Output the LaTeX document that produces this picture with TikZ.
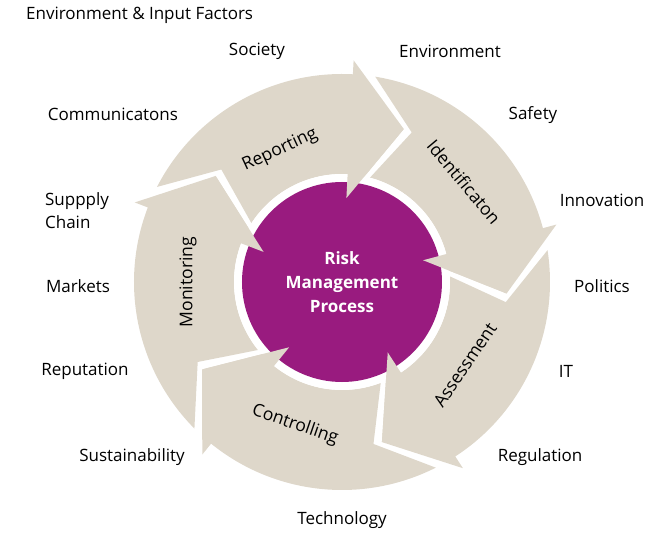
\documentclass[tikz,border=0pt]{standalone}
\usepackage{fontspec}
\setmainfont{Open Sans}
\definecolor{ringbeige}{RGB}{222,215,202}
\definecolor{riskpurple}{RGB}{153,27,127}

\begin{document}
\begin{tikzpicture}[x=0.03cm,y=0.03cm,
		factor/.style={font=\fontsize{14.5}{19.6}\selectfont, align=left},
		phase/.style={font=\fontsize{15}{18}\selectfont}]
	\useasboundingbox (-342,-251) rectangle (325,282);
	\foreach \b in {87,15,-57,-129,-201}{
		\fill[ringbeige] (\b+65.8:208) arc[start angle=\b+65.8, end angle=\b, radius=208]
			-- (\b:222) -- (\b-19:165) -- (\b:84) -- (\b:108)
			arc[start angle=\b, end angle=\b+60, radius=108] -- (\b+50:165) -- cycle;
	}
	\fill[white] (0,0) circle[radius=108];
	\fill[riskpurple] (0,0) circle[radius=100];
	\foreach \b in {87,15,-57,-129,-201}
		\fill[ringbeige] (\b:110) -- (\b-19:165) -- (\b:84) -- cycle;
	\node[text=white, align=center, font=\bfseries\fontsize{14.5}{20.4}\selectfont] (rmp) at (0,0) {Risk\\Management\\Process};
	\node[phase, rotate=25] (reporting) at (-62,132) {Reporting};
	\node[phase, rotate=-50] (identification) at (122,100) {Identificaton};
	\node[phase, rotate=56] (assessment) at (123,-83) {Assessment};
	\node[phase, rotate=-19] (controlling) at (-47,-143) {Controlling};
	\node[phase, rotate=90] (monitoring) at (-154,0) {Monitoring};
	\node[factor, anchor=west] (input) at (-320,267) {Environment \& Input Factors};
	\node[factor] (society) at (-85,231) {Society};
	\node[factor] (environment) at (108,231) {Environment};
	\node[factor] (communications) at (-229,168) {Communicatons};
	\node[factor] (safety) at (191,167) {Safety};
	\node[factor, anchor=west] (supply) at (-301,71) {Suppply\\Chain};
	\node[factor] (innovation) at (260,82) {Innovation};
	\node[factor] (markets) at (-264,-4) {Markets};
	\node[factor] (politics) at (260,-4) {Politics};
	\node[factor] (reputation) at (-257,-89) {Reputation};
	\node[factor] (it) at (224,-89) {IT};
	\node[factor] (sustainability) at (-210,-175) {Sustainability};
	\node[factor] (regulation) at (198,-175) {Regulation};
	\node[factor] (technology) at (0,-238) {Technology};
\end{tikzpicture}
\end{document}
